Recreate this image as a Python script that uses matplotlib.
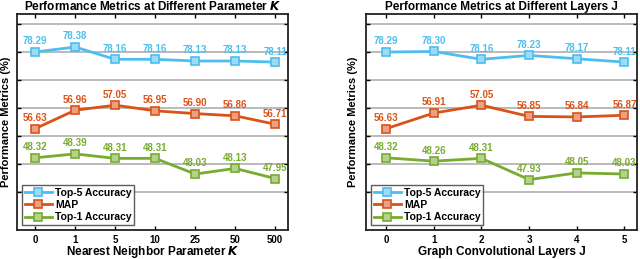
import numpy as np
import matplotlib
matplotlib.use('Agg')
import matplotlib.pyplot as plt
import matplotlib.colors as mcolors

plt.rcParams['font.family'] = ['Liberation Sans', 'DejaVu Sans']
plt.rcParams['font.weight'] = 'bold'

# Data for parameter K
k_labels = ['0', '1', '5', '10', '25', '50', '500']
k_top5 = [78.29, 78.38, 78.16, 78.16, 78.13, 78.13, 78.11]
k_map = [56.63, 56.96, 57.05, 56.95, 56.90, 56.86, 56.71]
k_top1 = [48.32, 48.39, 48.31, 48.31, 48.03, 48.13, 47.95]

# Data for layers J
j_labels = ['0', '1', '2', '3', '4', '5']
j_top5 = [78.29, 78.30, 78.16, 78.23, 78.17, 78.11]
j_map = [56.63, 56.91, 57.05, 56.85, 56.84, 56.87]
j_top1 = [48.32, 48.26, 48.31, 47.93, 48.05, 48.03]

# series are stacked on one hidden axis: shift each by its own offset
offsets = {'Top-5 Accuracy': 75.29, 'MAP': 55.0, 'Top-1 Accuracy': 47.21}
colors = {'Top-5 Accuracy': '#4DBEEE', 'MAP': '#D95319', 'Top-1 Accuracy': '#77AC30'}


def light(c, f=0.45):
    r, g, b = mcolors.to_rgb(c)
    return (r + (1 - r) * f, g + (1 - g) * f, b + (1 - b) * f)


def draw(ax, labels, series, title, xlabel, xlim, ylab_x):
    x = np.arange(len(labels))
    for name, vals in series:
        c = colors[name]
        y = np.array(vals) - offsets[name]
        ax.plot(x, y, '-s', color=c, lw=2, ms=6, mfc=light(c), mec=c, mew=1.2,
                label=name, zorder=3)
        for xi, yi, v in zip(x, y, vals):
            ax.text(xi, yi + 0.1, '%.2f' % v, color=c, fontsize=7, ha='center',
                    va='bottom', fontweight='bold', zorder=4)
    ax.set_xlim(*xlim)
    ax.set_ylim(-0.18, 3.68)
    ax.set_yticks(np.arange(0.5, 3.51, 0.5))
    ax.set_yticklabels([])
    ax.set_xticks(x)
    ax.set_xticklabels(labels, fontsize=7, fontweight='bold')
    ax.yaxis.grid(True, color='#b5b5b5', lw=1.3)
    ax.set_axisbelow(True)
    ax.tick_params(direction='in', top=True, right=True, length=3, width=1, pad=3.5)
    for s in ax.spines.values():
        s.set_linewidth(1.3)
        s.set_color('#222222')
    ax.set_title(title, fontsize=8.5, fontweight='bold', pad=3)
    ax.set_xlabel(xlabel, fontsize=8.5, fontweight='bold', va='center')
    ax.xaxis.set_label_coords(0.5, -0.100)
    ax.set_ylabel('Performance Metrics (%)', fontsize=8, fontweight='bold', va='center')
    ax.yaxis.set_label_coords(ylab_x, 0.5)
    leg = ax.legend(loc='lower left', frameon=True, fancybox=False,
                    edgecolor='#333333', handlelength=2.6, borderpad=0.25,
                    labelspacing=0.2, handletextpad=0.3, borderaxespad=0.5,
                    prop={'weight': 'bold', 'size': 7.5})
    leg.get_frame().set_linewidth(1.0)


fig = plt.figure(figsize=(6.4, 2.59), dpi=100)
ax1 = fig.add_axes([0.0266, 0.112, 0.4234, 0.834])
ax2 = fig.add_axes([0.572, 0.112, 0.423, 0.834])

draw(ax1, k_labels,
     [('Top-5 Accuracy', k_top5), ('MAP', k_map), ('Top-1 Accuracy', k_top1)],
     'Performance Metrics at Different Parameter $\\boldsymbol{K}$',
     'Nearest Neighbor Parameter $\\boldsymbol{K}$', (-0.45, 6.32), -0.040)
draw(ax2, j_labels,
     [('Top-5 Accuracy', j_top5), ('MAP', j_map), ('Top-1 Accuracy', j_top1)],
     'Performance Metrics at Different Layers J',
     'Graph Convolutional Layers J', (-0.42, 5.26), -0.048)

fig.savefig('out.png', dpi=100)
